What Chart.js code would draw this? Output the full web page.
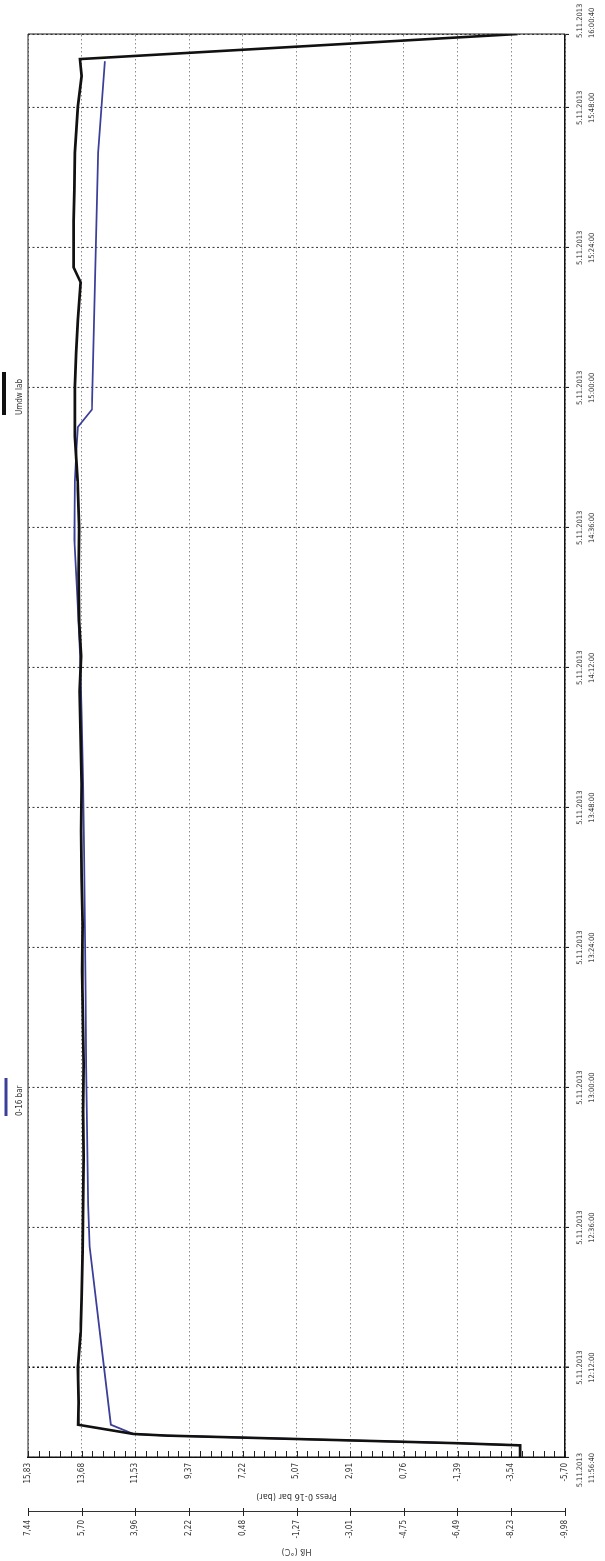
<!DOCTYPE html>
<html>
<head>
<meta charset="utf-8">
<script src="https://cdn.jsdelivr.net/npm/chart.js@4.4.0/dist/chart.umd.min.js"></script>
<style>
  html, body { margin: 0; padding: 0; background: #fff; overflow: hidden; }
  /* the printout is turned a quarter turn, so the chart is drawn flat and rotated */
  #wrap { position: absolute; left: 0; top: 1561px; width: 1561px; height: 605px;
          transform-origin: 0 0; transform: rotate(-90deg); }
</style>
</head>
<body>
<div id="wrap"><canvas id="myChart"></canvas></div>
<script>
let dateLabel = "5.11.2013";
let timeTicks = ["11:56:40", "12:12:00", "12:36:00", "13:00:00", "13:24:00", "13:48:00",
  "14:12:00", "14:36:00", "15:00:00", "15:24:00", "15:48:00", "16:00:40"];
let pressTicks = [15.83, 13.68, 11.53, 9.37, 7.22, 5.07, 2.91, 0.76, -1.39, -3.54, -5.70];
let tempTicks = [7.44, 5.70, 3.96, 2.22, 0.48, -1.27, -3.01, -4.75, -6.49, -8.23, -9.98];
let pressTitle = "Press 0-16 bar (bar)";
let tempTitle = "Hß (°C)";

let blackLabel = "Umdw lab";
let blackTimes = ["11:56:40", "11:58:40", "11:59:02", "12:00:20", "12:00:37", "12:02:12", "12:06:00",
  "12:12:00", "12:18:00", "12:24:00", "12:32:00", "12:40:00", "12:48:00", "12:56:00", "13:04:00",
  "13:12:00", "13:20:00", "13:28:00", "13:36:00", "13:44:00", "13:52:00", "14:00:00", "14:08:00",
  "14:14:00", "14:20:00", "14:28:00", "14:36:00", "14:44:00", "14:51:40", "15:00:10", "15:06:00",
  "15:11:40", "15:18:04", "15:20:40", "15:28:40", "15:34:00", "15:40:20", "15:48:16", "15:53:28",
  "15:56:22", "16:00:40"];
let blackValues = [-3.90, -3.90, -1.40, 10.27, 11.60, 13.82, 13.80, 13.83, 13.72, 13.68, 13.64,
  13.62, 13.60, 13.62, 13.60, 13.63, 13.66, 13.64, 13.68, 13.70, 13.68, 13.72, 13.76, 13.70, 13.78,
  13.80, 13.78, 13.84, 13.95, 13.95, 13.90, 13.83, 13.72, 14.00, 14.00, 13.97, 13.95, 13.83, 13.68,
  13.75, -3.80];

let blueLabel = "0-16 bar";
let blueTimes = ["11:56:40", "11:58:40", "11:59:02", "12:00:20", "12:00:37", "12:02:12", "12:32:46",
  "12:40:00", "12:52:00", "13:04:00", "13:16:00", "13:28:00", "13:40:00", "13:52:00", "14:04:00",
  "14:14:00", "14:24:00", "14:34:00", "14:44:00", "14:50:00", "14:53:16", "14:56:16", "15:40:20",
  "15:56:00"];
let blueValues = [-3.90, -3.90, -1.40, 10.27, 11.60, 12.51, 13.36, 13.42, 13.46, 13.50, 13.52, 13.55,
  13.58, 13.62, 13.68, 13.74, 13.85, 13.97, 13.95, 13.88, 13.83, 13.27, 13.02, 12.75];

let font = "'Liberation Sans Narrow', 'DejaVu Sans Condensed', 'Liberation Sans', sans-serif";
let textColor = "#333";
let blackColor = "#111";
let blueColor = "#3b3f98";

toSeconds = (s) => {
  let p = s.split(":");
  return +p[0] * 3600 + +p[1] * 60 + +p[2];
};
fmt = (v) => v.toFixed(2).replace(".", ",");
toPoints = (times, values) => times.map((t, i) => ({ x: toSeconds(t), y: values[i] }));

// frame, minor ticks, the two-line time labels and the legend
let extras = {
  id: "extras",
  afterDraw: (chart) => {
    let c = chart.ctx;
    let a = chart.chartArea;
    let x = chart.scales.x;
    let y = chart.scales.y;
    let y2 = chart.scales.y2;
    c.save();
    c.strokeStyle = "#222";
    c.lineWidth = 1;
    c.beginPath();
    c.moveTo(a.left, a.top);
    c.lineTo(a.right, a.top);
    c.lineTo(a.right, a.bottom);
    c.stroke();

    c.beginPath();
    let step = (y.max - y.min) / 50;
    for (let i = 0; i <= 50; i++) {
      let py = Math.round(y.getPixelForValue(y.min + i * step)) + 0.5;
      c.moveTo(a.left, py);
      c.lineTo(a.left + 6, py);
    }
    y2.ticks.forEach((t) => {
      let py = Math.round(y2.getPixelForValue(t.value)) + 0.5;
      c.moveTo(y2.right - 4, py);
      c.lineTo(y2.right + 4, py);
    });
    c.stroke();

    c.fillStyle = textColor;
    c.font = "7.5px " + font;
    c.textBaseline = "middle";
    timeTicks.forEach((t, i) => {
      let px = x.getPixelForValue(toSeconds(t));
      if (i === 0) { c.textAlign = "right"; px += 4; }
      else if (i === timeTicks.length - 1) { c.textAlign = "left"; px -= 4; }
      else { c.textAlign = "center"; }
      c.fillText(dateLabel, px, a.bottom + 15);
      c.fillText(t, px, a.bottom + 27);
    });

    c.font = "8px " + font;
    let legend = [
      { label: blueLabel, color: blueColor, x: 445, w: 38, lw: 3, ly: 6 },
      { label: blackLabel, color: blackColor, x: 1146, w: 43, lw: 4, ly: 4 },
    ];
    legend.forEach((l) => {
      c.strokeStyle = l.color;
      c.lineWidth = l.lw;
      c.beginPath();
      c.moveTo(l.x, l.ly);
      c.lineTo(l.x + l.w, l.ly);
      c.stroke();
      c.textAlign = "left";
      c.fillStyle = textColor;
      c.fillText(l.label, l.x, 20);
    });
    c.restore();
  },
};

let ctx = document.getElementById("myChart").getContext("2d");
let chart = new Chart(ctx, {
  type: "line",
  data: {
    datasets: [
      {
        label: blackLabel,
        data: toPoints(blackTimes, blackValues),
        borderColor: blackColor,
        borderWidth: 2.6,
        pointRadius: 0,
        tension: 0,
        yAxisID: "y",
      },
      {
        label: blueLabel,
        data: toPoints(blueTimes, blueValues),
        borderColor: blueColor,
        borderWidth: 1.8,
        pointRadius: 0,
        tension: 0,
        yAxisID: "y",
      },
    ],
  },
  options: {
    responsive: true,
    maintainAspectRatio: false,
    animation: false,
    layout: { padding: { top: 28, right: 34, left: 0, bottom: 0 } },
    plugins: { legend: { display: false }, tooltip: { enabled: false } },
    scales: {
      x: {
        type: "linear",
        min: toSeconds(timeTicks[0]),
        max: toSeconds(timeTicks[timeTicks.length - 1]),
        afterBuildTicks: (s) => { s.ticks = timeTicks.map((t) => ({ value: toSeconds(t) })); },
        afterFit: (s) => { s.height = 40; },
        ticks: { display: false },
        grid: {
          color: (c) => (c.tick && c.tick.value === toSeconds("12:12:00") ? "#111" : "#444"),
          lineWidth: (c) => (c.tick && c.tick.value === toSeconds("12:12:00") ? 1.5 : 1.1),
          tickColor: "#222",
          tickLength: 4,
        },
        border: { color: blackColor, width: 1.5, dash: [2, 2.5] },
      },
      y: {
        type: "linear",
        position: "left",
        weight: 0,
        min: pressTicks[pressTicks.length - 1],
        max: pressTicks[0],
        afterBuildTicks: (s) => { s.ticks = pressTicks.map((v) => ({ value: v })); },
        afterFit: (s) => { s.width = 55; },
        ticks: { callback: (v) => fmt(v), padding: 6, color: textColor, font: { family: font, size: 8 }, autoSkip: false },
        grid: { color: "#8a8a8a", drawTicks: false },
        border: { color: blackColor, width: 1.5, dash: [1.5, 2.5] },
        title: { display: true, text: pressTitle, color: textColor, font: { family: font, size: 9 }, padding: { top: 10 } },
      },
      y2: {
        type: "linear",
        position: "left",
        weight: 1,
        min: tempTicks[tempTicks.length - 1],
        max: tempTicks[0],
        afterBuildTicks: (s) => { s.ticks = tempTicks.map((v) => ({ value: v })); },
        afterFit: (s) => { s.width = 49; },
        ticks: { callback: (v) => fmt(v), padding: 8, color: textColor, font: { family: font, size: 8 }, autoSkip: false },
        grid: { display: false, drawTicks: false },
        border: { color: "#333", width: 1 },
        title: { display: true, text: tempTitle, color: textColor, font: { family: font, size: 9 }, padding: { top: 4 } },
      },
    },
  },
  plugins: [extras],
});
</script>
</body>
</html>
